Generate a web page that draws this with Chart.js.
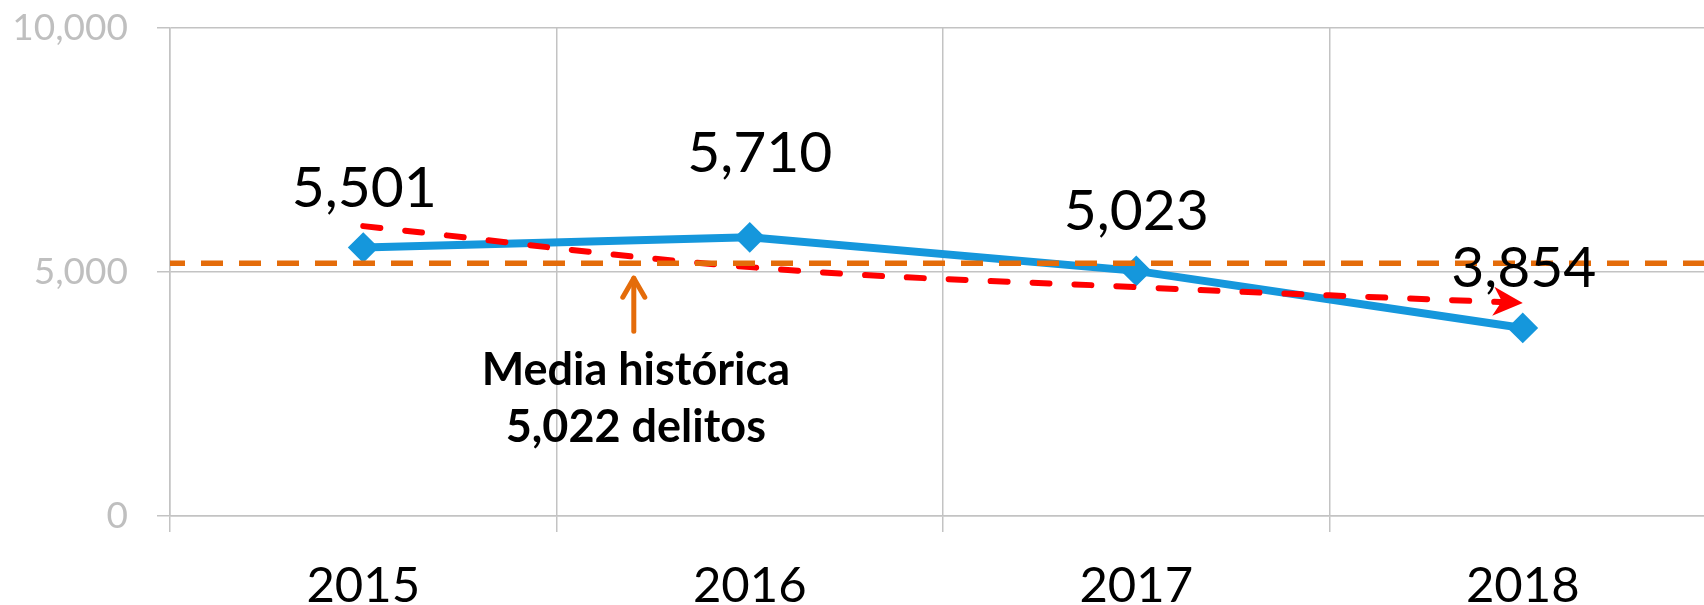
<!DOCTYPE html>
<html><head><meta charset="utf-8">
<script src="https://cdn.jsdelivr.net/npm/chart.js@4/dist/chart.umd.min.js"></script>
<style>
html,body{margin:0;padding:0;overflow:hidden;background:#fff;width:1704px;height:605px;}
#c{display:block;}
</style></head><body>
<canvas id="c" width="1720" height="605" style="width:1720px;height:605px"></canvas>
<script>
// ---- data ----
const years = ['2015', '2016', '2017', '2018'];
const delitos = [5501, 5710, 5023, 3854];
const tendencia = [5940, 5100, 4690, 4365];   // red dashed trend arrow
const mediaLinea = 5180;                       // drawn level of historical mean line
const mediaTexto = ['Media histórica', '5,022 delitos'];
const yMin = 0, yMax = 10000, yStep = 5000;

const BLUE = '#1597DC', RED = '#FF0000', ORANGE = '#E46C0A', GRID = '#C3C3C3';
const FONT = 'Lato, "Open Sans", sans-serif';
const fmt = v => Number(v).toLocaleString('en-US');

const overlay = {
  id: 'overlay',
  afterDatasetsDraw(chart) {
    const ctx = chart.ctx, ca = chart.chartArea;
    const xs = chart.scales.x, ys = chart.scales.y;
    // orange mean line
    const my = ys.getPixelForValue(mediaLinea);
    ctx.save();
    ctx.beginPath();
    ctx.rect(ca.left, ca.top, ca.right - ca.left, ca.bottom - ca.top);
    ctx.clip();
    ctx.strokeStyle = ORANGE; ctx.lineWidth = 5.5; ctx.lineCap = 'butt';
    ctx.setLineDash([22, 16]); ctx.lineDashOffset = 7;
    ctx.beginPath(); ctx.moveTo(ca.left, my); ctx.lineTo(ca.right, my); ctx.stroke();
    ctx.restore();

    // red arrow head at the end of trend
    const meta = chart.getDatasetMeta(1);
    const pts = meta.data, last = pts[pts.length - 1], prev = pts[pts.length - 2];
    let bx = (last.cp1x !== undefined) ? last.cp1x : prev.x;
    let by = (last.cp1y !== undefined) ? last.cp1y : prev.y;
    const ang = Math.atan2(last.y - by, last.x - bx);
    ctx.save();
    ctx.translate(last.x, last.y); ctx.rotate(ang);
    ctx.fillStyle = RED;
    ctx.beginPath();
    ctx.moveTo(0, 0); ctx.lineTo(-29, -15); ctx.lineTo(-21, -1); ctx.lineTo(-30, 14);
    ctx.closePath(); ctx.fill();
    ctx.restore();

    // orange annotation arrow + text
    const ax = xs.getPixelForValue(0.7);
    const tipY = my + 15, botY = my + 68;
    ctx.save();
    ctx.strokeStyle = ORANGE; ctx.lineWidth = 5; ctx.lineCap = 'round'; ctx.lineJoin = 'round';
    ctx.setLineDash([]);
    ctx.beginPath(); ctx.moveTo(ax, botY); ctx.lineTo(ax, tipY); ctx.stroke();
    ctx.beginPath(); ctx.moveTo(ax - 11, tipY + 19); ctx.lineTo(ax, tipY); ctx.lineTo(ax + 11, tipY + 19); ctx.stroke();
    ctx.fillStyle = '#000'; ctx.font = 'bold 45px ' + FONT;
    ctx.textAlign = 'center'; ctx.textBaseline = 'alphabetic';
    ctx.fillText(mediaTexto[0], ax + 2, my + 122);
    ctx.fillText(mediaTexto[1], ax + 2, my + 179);
    ctx.restore();

    // data labels
    const bm = chart.getDatasetMeta(0);
    const dy = [41, 65, 41, 41], dx = [1, 10, 0, 1];
    ctx.save();
    ctx.fillStyle = '#000'; ctx.font = '57px ' + FONT;
    ctx.textAlign = 'center'; ctx.textBaseline = 'alphabetic';
    bm.data.forEach((p, i) => ctx.fillText(fmt(delitos[i]), p.x + dx[i], p.y - dy[i]));
    ctx.restore();
  }
};

new Chart(document.getElementById('c'), {
  type: 'line',
  data: {
    labels: years,
    datasets: [
      {
        label: 'Delitos', data: delitos, order: 2,
        borderColor: BLUE, backgroundColor: BLUE, borderWidth: 8, tension: 0,
        pointStyle: 'rectRot', pointRadius: 14, pointBorderWidth: 2,
        pointBackgroundColor: BLUE, pointBorderColor: BLUE
      },
      {
        label: 'Tendencia', data: tendencia, order: 1,
        borderColor: RED, borderWidth: 6, borderDash: [17, 25], borderCapStyle: 'round',
        tension: 0.4, pointRadius: 0, fill: false
      }
    ]
  },
  options: {
    responsive: false, animation: false, devicePixelRatio: 1,
    layout: { autoPadding: false, padding: { top: 28, right: 4, left: 0, bottom: 0 } },
    plugins: { legend: { display: false }, tooltip: { enabled: false } },
    scales: {
      x: {
        offset: true,
        grid: { offset: true, color: GRID, lineWidth: 1.5, tickLength: 16, drawOnChartArea: true },
        border: { color: GRID, width: 1.5 },
        ticks: { color: '#000', font: { family: FONT, size: 49 }, padding: 25 },
        afterFit(s) { s.height = 89; s.paddingLeft = 0; s.paddingRight = 0; }
      },
      y: {
        min: yMin, max: yMax,
        grid: { color: GRID, lineWidth: 1.5, tickLength: 13 },
        border: { color: GRID, width: 1.5 },
        ticks: { stepSize: yStep, color: '#BFBFBF', font: { family: FONT, size: 37 }, padding: 29,
                 callback: v => fmt(v) },
        afterFit(s) { s.width = 170; s.paddingTop = 0; s.paddingBottom = 0; }
      }
    }
  },
  plugins: [overlay]
});
</script>
</body></html>
